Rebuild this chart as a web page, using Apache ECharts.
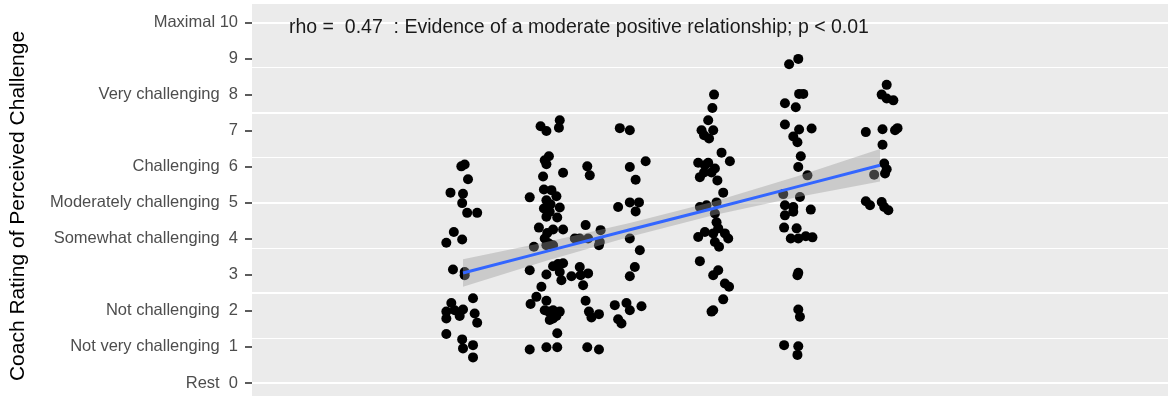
<!DOCTYPE html>
<html><head><meta charset="utf-8">
<script src="https://cdn.jsdelivr.net/npm/echarts@6/dist/echarts.min.js"></script>
<style>html,body{margin:0;padding:0;background:#fff}#c{width:1168px;height:396px}</style>
</head><body><div id="c"></div>
<script>
// Tick labels of the y axis (value 0..10)
const yTickValues = [0,1,2,3,4,5,6,7,8,9,10];
const yTickNames = ["Rest","Not very challenging","Not challenging","","Somewhat challenging","Moderately challenging","Challenging","","Very challenging","","Maximal"];

// Jittered points, grouped by x column
const group1 = [[0.98,6.01],[1.02,6.06],[1.06,5.65],[0.85,5.28],[1.00,5.25],[0.99,4.99],[1.05,4.72],[1.17,4.72],[0.89,4.19],[0.99,3.98],[0.80,3.89],[0.88,3.15],[1.02,3.08],[1.02,2.99],[1.12,2.35],[0.86,2.22],[0.80,1.98],[0.90,2.02],[1.00,2.04],[0.80,1.79],[0.96,1.86],[1.14,1.93],[1.17,1.67],[0.80,1.36],[0.99,1.21],[1.00,0.96],[1.12,1.05],[1.12,0.71]];
const group2 = [[1.93,7.12],[2.00,6.99],[2.16,7.29],[2.15,7.08],[2.03,6.29],[1.98,6.18],[2.00,6.07],[1.96,5.73],[2.20,5.83],[1.80,5.15],[1.97,5.37],[2.06,5.35],[2.12,5.18],[2.00,5.07],[1.97,4.84],[2.05,4.96],[2.16,4.87],[2.00,4.61],[2.13,4.59],[2.04,4.75],[1.91,4.31],[2.01,4.16],[2.08,4.26],[2.20,4.26],[1.98,4.01],[2.03,3.87],[2.08,3.82],[2.00,3.82],[1.85,3.78],[1.80,3.13],[2.00,3.01],[2.08,3.24],[2.14,3.30],[2.20,3.32],[2.16,3.08],[2.18,2.85],[1.94,2.67],[1.88,2.39],[1.81,2.19],[2.00,2.28],[1.98,2.02],[2.03,1.98],[2.08,2.02],[2.16,1.98],[2.04,1.75],[2.12,1.86],[2.08,1.79],[2.13,1.38],[1.80,0.93],[2.00,0.99],[2.13,0.99]];
const group3 = [[2.49,6.01],[2.52,5.76],[2.47,4.38],[2.65,4.24],[2.34,4.01],[2.40,4.01],[2.50,4.01],[2.64,3.91],[2.63,3.82],[2.30,2.96],[2.40,3.22],[2.41,2.99],[2.50,3.04],[2.44,2.71],[2.47,2.28],[2.51,1.98],[2.54,1.82],[2.63,1.91],[2.49,0.99],[2.63,0.93]];
const group4 = [[2.88,7.07],[3.00,7.01],[3.00,5.99],[3.19,6.15],[3.07,5.64],[2.86,4.88],[3.00,5.01],[3.11,5.01],[3.07,4.76],[3.00,4.01],[3.12,3.68],[3.06,3.22],[3.00,2.96],[2.82,2.16],[2.96,2.22],[3.00,2.02],[3.14,2.13],[2.86,1.77],[2.90,1.65]];
const group5 = [[4.01,8.00],[3.99,7.63],[3.94,7.29],[3.86,7.01],[4.00,7.01],[3.89,6.87],[3.95,6.78],[4.10,6.39],[4.20,6.15],[3.82,6.11],[3.90,6.04],[3.94,6.11],[3.84,5.71],[3.89,5.84],[3.98,5.84],[4.02,5.95],[4.05,5.62],[4.12,5.28],[3.84,4.88],[3.92,4.93],[4.04,5.01],[4.02,4.70],[4.04,4.46],[3.82,4.05],[3.90,4.19],[4.00,4.15],[4.06,4.29],[4.14,4.15],[4.18,4.01],[4.02,3.91],[4.07,3.78],[3.84,3.38],[4.06,3.13],[4.00,2.99],[4.14,2.76],[4.19,2.67],[4.12,2.32],[4.00,2.02],[3.98,1.98]];
const group6 = [[4.91,8.84],[5.02,8.99],[4.86,7.76],[4.99,7.65],[5.03,8.02],[5.08,8.02],[4.86,7.17],[5.03,7.03],[4.96,6.84],[5.01,6.68],[5.18,7.06],[5.05,6.29],[5.02,5.99],[5.13,5.76],[4.84,5.24],[5.04,5.16],[4.86,4.93],[4.96,4.88],[4.86,4.65],[4.96,4.75],[5.17,4.81],[4.85,4.31],[5.00,4.29],[4.93,4.01],[5.02,4.01],[5.11,4.07],[5.19,4.04],[5.02,3.06],[5.01,2.99],[5.02,2.04],[5.04,1.84],[4.85,1.05],[5.02,1.02],[5.01,0.78]];
const group7 = [[6.08,8.27],[6.02,8.00],[6.08,7.89],[6.16,7.84],[5.83,6.96],[6.03,7.04],[6.18,7.01],[6.21,7.07],[6.03,6.61],[6.05,6.09],[6.08,5.93],[6.06,5.81],[5.93,5.78],[5.83,5.04],[5.88,4.93],[6.02,5.02],[6.05,4.88],[6.10,4.79]];

// Fitted line and confidence band
const fitX = [1,2,3,4,5,6];
const fitY = [3.05,3.65,4.25,4.84,5.44,6.04];
const bandLower = [2.67,3.39,4.06,4.65,5.15,5.59];
const bandUpper = [3.43,3.91,4.44,5.03,5.73,6.49];

const annotationText = "rho =  0.47  : Evidence of a moderate positive relationship; p < 0.01";
const yTitle = "Coach Rating of Perceived Challenge";

const points = [].concat(group1, group2, group3, group4, group5, group6, group7);
const FONT = '"Liberation Sans", Arial, Helvetica, sans-serif';

const chart = echarts.init(document.getElementById('c'), null, {renderer: 'canvas'});
const hiddenY = {
  type: 'value', min: 0, max: 10,
  axisLine: {show: false, onZero: false}, axisTick: {show: false}, axisLabel: {show: false}
};
chart.setOption({
  animation: false,
  backgroundColor: '#ffffff',
  grid: {left: 252, right: 0, top: 22.5, bottom: 13, containLabel: false},
  xAxis: {
    type: 'value', min: -1.530, max: 9.453,
    axisLine: {show: false, onZero: false}, axisTick: {show: false}, axisLabel: {show: false}, splitLine: {show: false}
  },
  yAxis: [
    {
      type: 'value', min: 0, max: 10, interval: 1, position: 'left',
      axisLine: {show: false, onZero: false},
      axisTick: {show: true, length: 7, lineStyle: {color: '#333333', width: 1.6}},
      axisLabel: {
        margin: 14, color: '#4D4D4D', fontSize: 16.5, fontFamily: FONT,
        formatter: function (v) {
          const i = yTickValues.indexOf(Math.round(v));
          const name = yTickNames[i];
          if (!name) return String(v);
          return name + (v < 10 ? '  ' : ' ') + v;
        }
      },
      splitLine: {show: false}
    },
    Object.assign({}, hiddenY, {interval: 1.25, position: 'right',
      splitLine: {show: true, lineStyle: {color: '#ffffff', width: 1.2}}}),
    Object.assign({}, hiddenY, {interval: 2.5, position: 'right', offset: 10,
      splitLine: {show: true, lineStyle: {color: '#ffffff', width: 2.2}}})
  ],
  graphic: [
    {type: 'rect', z: -100, silent: true, shape: {x: 252, y: 4, width: 916, height: 392}, style: {fill: '#EBEBEB'}},
    {type: 'text', x: 289, y: 28, z: 100, silent: true,
      style: {text: annotationText, fontSize: 19.5, fontFamily: FONT, fill: '#1a1a1a',
        align: 'left', textAlign: 'left', verticalAlign: 'middle', textVerticalAlign: 'middle'}},
    {type: 'text', x: 18, y: 206, rotation: Math.PI / 2, z: 100, silent: true,
      style: {text: yTitle, fontSize: 21, fontFamily: FONT, fill: '#000000',
        align: 'center', textAlign: 'center', verticalAlign: 'middle', textVerticalAlign: 'middle'}}
  ],
  series: [
    {
      type: 'scatter', data: points, symbolSize: 10, z: 2,
      itemStyle: {color: '#000000', opacity: 1}
    },
    {
      type: 'custom', z: 3, data: [[fitX[0], fitY[0]]],
      renderItem: function (params, api) {
        const pts = [];
        for (let i = 0; i < fitX.length; i++) pts.push(api.coord([fitX[i], bandUpper[i]]));
        for (let i = fitX.length - 1; i >= 0; i--) pts.push(api.coord([fitX[i], bandLower[i]]));
        return {type: 'polygon', shape: {points: pts}, style: {fill: 'rgba(153,153,153,0.4)'}};
      }
    },
    {
      type: 'line', z: 4, data: fitX.map((x, i) => [x, fitY[i]]),
      showSymbol: false, symbol: 'none',
      lineStyle: {color: '#3366FF', width: 3}
    }
  ]
});
</script></body></html>
